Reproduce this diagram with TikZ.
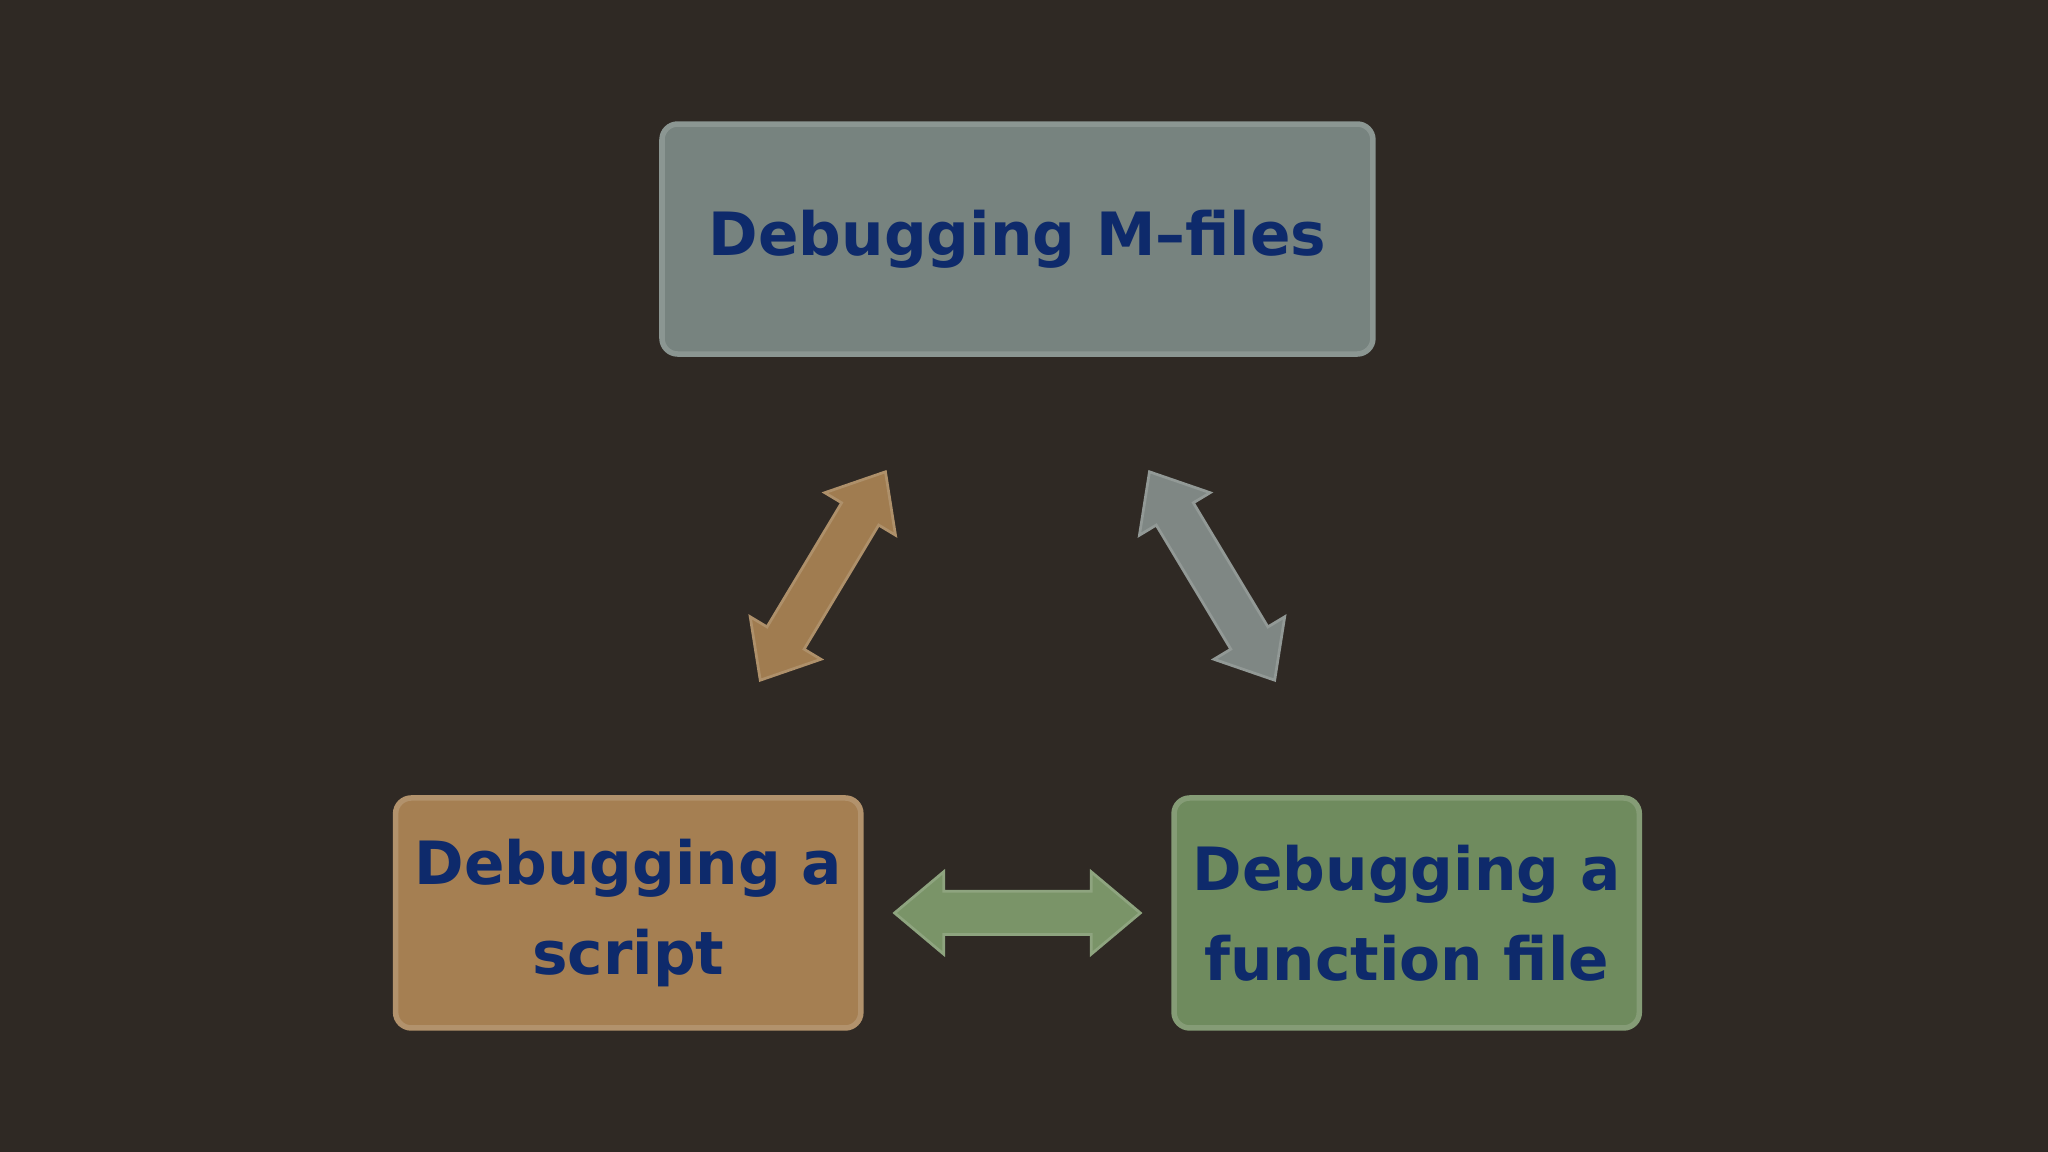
\documentclass[tikz,border=0pt]{standalone}
\usepackage{fontspec}
\setmainfont{DejaVu Sans}
\usetikzlibrary{shapes.arrows}
\definecolor{bg}{HTML}{2F2924}
\definecolor{txt}{HTML}{0E2A6B}
\definecolor{grayb}{HTML}{77837F}
\definecolor{tanb}{HTML}{A57F52}
\definecolor{greenb}{HTML}{6F8B5E}
\definecolor{tana}{HTML}{A07C50}
\definecolor{graya}{HTML}{7F8784}
\definecolor{greena}{HTML}{7A9468}
\tikzset{
  box/.style={rounded corners=0.12cm, draw=#1!85!white, line width=1.2pt, fill=#1, text=txt,
    font=\fontsize{13}{19.5}\selectfont\bfseries, align=center, inner sep=0pt},
  dbl/.style={double arrow, fill=#1, draw=#1!85!white, line width=0.6pt, inner xsep=0pt, inner ysep=0.155cm,
    double arrow head extend=0.15cm, double arrow tip angle=80}
}
\begin{document}
\begin{tikzpicture}[x=0.01cm,y=-0.01cm]
\fill[bg] (0,0) rectangle (1568,882);
\useasboundingbox (0,0) rectangle (1568,882);
\node[box=grayb, minimum width=5.44cm, minimum height=1.76cm] (top) at (779,183) {Debugging M–files};
\node[box=tanb, minimum width=3.56cm, minimum height=1.76cm] (left) at (481,699) {Debugging a\\script};
\node[box=greenb, minimum width=3.56cm, minimum height=1.76cm] (right) at (1077,699) {Debugging a\\function file};
\node[dbl=tana, minimum height=1.86cm, rotate=59] (a1) at (630,441) {};
\node[dbl=graya, minimum height=1.86cm, rotate=-59] (a2) at (928,441) {};
\node[dbl=greena, minimum height=1.88cm] (a3) at (779,699) {};
\end{tikzpicture}
\end{document}
